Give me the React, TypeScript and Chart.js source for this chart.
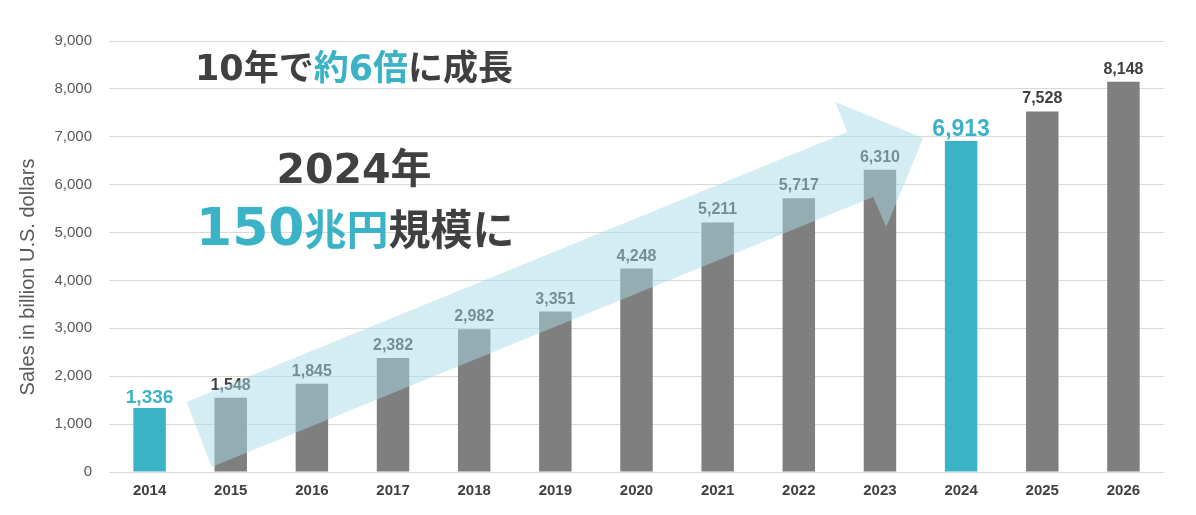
import React, { useEffect, useRef } from "react";
import { Chart, registerables } from "chart.js";

Chart.register(...registerables);

// ---- data ----
const years = ["2014", "2015", "2016", "2017", "2018", "2019", "2020", "2021", "2022", "2023", "2024", "2025", "2026"];
const sales = [1336, 1548, 1845, 2382, 2982, 3351, 4248, 5211, 5717, 6310, 6913, 7528, 8148];
const highlightYears = ["2014", "2024"];
const yAxisTitle = "Sales in billion U.S. dollars";
const headline = [
  { text: "10年で", accent: false },
  { text: "約6倍", accent: true },
  { text: "に成長", accent: false },
];
const subline1 = "2024年";
const subline2 = [
  { text: "150", accent: true, big: true },
  { text: "兆円", accent: true, big: false },
  { text: "規模に", accent: false, big: false },
];

// ---- styles ----
const TEAL = "#3bb3c7";
const GRAY = "#7f7f7f";
const DARK = "#404040";
const AXIS = "#595959";
const GRID = "#d9d9d9";
const ARROW = "rgba(170, 220, 232, 0.5)";
const JP = '"DejaVu Sans", "Noto Sans CJK JP", sans-serif';
const LAT = '"Liberation Sans", Arial, sans-serif';

// arrow outline in (category index, value) space
const arrowShape: [number, number][] = [
  [0.456, 1461],
  [8.597, 7098],
  [8.449, 7724],
  [9.534, 6973],
  [9.077, 5115],
  [8.917, 5741],
  [0.765, 104],
];

function drawRuns(
  ctx: CanvasRenderingContext2D,
  runs: { text: string; font: string; color: string }[],
  x: number,
  y: number,
  align: "left" | "center"
) {
  ctx.textBaseline = "alphabetic";
  ctx.textAlign = "left";
  let total = 0;
  const widths = runs.map((r) => {
    ctx.font = r.font;
    const w = ctx.measureText(r.text).width;
    total += w;
    return w;
  });
  let cx = align === "center" ? x - total / 2 : x;
  runs.forEach((r, i) => {
    ctx.font = r.font;
    ctx.fillStyle = r.color;
    ctx.fillText(r.text, cx, y);
    cx += widths[i];
  });
}

const overlayPlugin = {
  id: "overlay",
  afterDatasetsDraw(chart: any) {
    const ctx: CanvasRenderingContext2D = chart.ctx;
    const meta = chart.getDatasetMeta(0);
    ctx.save();
    // value labels
    meta.data.forEach((el: any, i: number) => {
      const hl = highlightYears.includes(years[i]);
      const big = years[i] === "2024";
      ctx.font = `bold ${big ? 23 : hl ? 19 : 16}px ${LAT}`;
      ctx.fillStyle = hl ? TEAL : DARK;
      ctx.textAlign = "center";
      ctx.textBaseline = "alphabetic";
      ctx.fillText(sales[i].toLocaleString("en-US"), el.x, el.y - (hl ? 5 : 8));
    });
    // arrow
    const xs = chart.scales.x;
    const ys = chart.scales.y;
    ctx.beginPath();
    arrowShape.forEach(([i, v], k) => {
      const px = xs.getPixelForValue(i);
      const py = ys.getPixelForValue(v);
      if (k === 0) ctx.moveTo(px, py);
      else ctx.lineTo(px, py);
    });
    ctx.closePath();
    ctx.fillStyle = ARROW;
    ctx.fill();

    // y axis title
    ctx.save();
    ctx.translate(28, 277);
    ctx.rotate(-Math.PI / 2);
    ctx.font = `20px ${LAT}`;
    ctx.fillStyle = AXIS;
    ctx.textAlign = "center";
    ctx.textBaseline = "middle";
    ctx.fillText(yAxisTitle, 0, 0);
    ctx.restore();

    // annotations
    drawRuns(
      ctx,
      headline.map((h) => ({ text: h.text, font: `bold 35px ${JP}`, color: h.accent ? TEAL : DARK })),
      195,
      80,
      "left"
    );
    drawRuns(ctx, [{ text: subline1, font: `bold 41px ${JP}`, color: DARK }], 354, 183, "center");
    drawRuns(
      ctx,
      subline2.map((s) => ({
        text: s.text,
        font: `bold ${s.big ? 52 : 42}px ${JP}`,
        color: s.accent ? TEAL : DARK,
      })),
      196,
      245,
      "left"
    );
    ctx.restore();
  },
};

export default function App() {
  const ref = useRef<HTMLCanvasElement | null>(null);
  useEffect(() => {
    if (!ref.current) return;
    const chart = new Chart(ref.current, {
      type: "bar",
      data: {
        labels: years,
        datasets: [
          {
            data: sales,
            backgroundColor: years.map((y) => (highlightYears.includes(y) ? TEAL : GRAY)),
            barPercentage: 0.4,
            categoryPercentage: 1,
          },
        ],
      },
      options: {
        animation: false,
        responsive: true,
        maintainAspectRatio: false,
        layout: { padding: { top: 41, right: 32, bottom: 0, left: 0 } },
        plugins: { legend: { display: false }, tooltip: { enabled: false } },
        scales: {
          x: {
            grid: { display: false, drawTicks: false },
            border: { display: false },
            ticks: { color: DARK, font: { family: LAT, size: 15, weight: "bold" }, padding: 10 },
            afterFit: (s: any) => {
              s.height = 43;
            },
          },
          y: {
            min: 0,
            max: 9000,
            ticks: {
              stepSize: 1000,
              color: AXIS,
              padding: 17,
              font: { family: LAT, size: 15 },
              callback: (v: any) => Number(v).toLocaleString("en-US"),
            },
            grid: { color: GRID, drawTicks: false, lineWidth: 1 },
            border: { display: false },
            afterFit: (s: any) => {
              s.width = 109;
            },
          },
        },
      },
      plugins: [overlayPlugin],
    });
    return () => chart.destroy();
  }, []);
  return (
    <div style={{ position: "absolute", left: 0, top: 0, width: 1196, height: 515 }}>
      <canvas ref={ref} />
    </div>
  );
}
